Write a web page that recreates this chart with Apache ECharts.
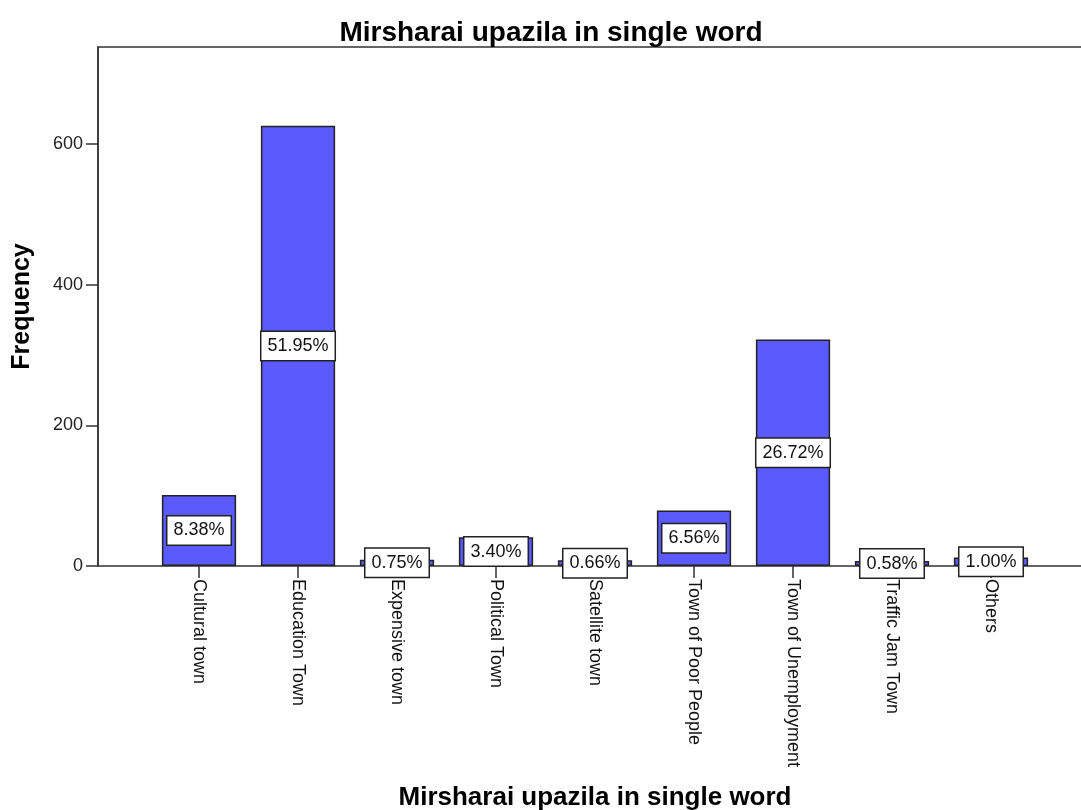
<!DOCTYPE html>
<html>
<head>
<meta charset="utf-8">
<script src="https://cdn.jsdelivr.net/npm/echarts@6/dist/echarts.min.js"></script>
<style>
html,body{margin:0;padding:0;background:#fff;}
#bar{width:1081px;height:810px;}
</style>
</head>
<body>
<div id="bar"></div>
<script>
// categories and values
var categories = ['Cultural town','Education Town','Expensive town','Political Town','Satellite town',
	'Town of Poor People','Town of Unemployment','Traffic Jam Town','Others'];
var frequency = [101, 626, 9, 41, 8, 79, 322, 7, 12];
var percentLabels = ['8.38%','51.95%','0.75%','3.40%','0.66%','6.56%','26.72%','0.58%','1.00%'];
var yTicks = [0, 200, 400, 600];

var font = '"Liberation Sans", Arial, sans-serif';

var myChart = echarts.init(document.getElementById('bar'));

myChart.setOption({
	animation: false,
	title: {
		text: 'Mirsharai upazila in single word',
		left: 546,
		textAlign: 'center',
		top: 14,
		textStyle: {fontFamily: font, fontSize: 28, fontWeight: 'bold', color: '#000'}
	},
	grid: [
		// bars
		{left: 149.5, right: 40.5, top: 47, bottom: 244, outerBoundsMode: 'none'},
		// outer frame (runs past the right edge like the original)
		{left: 98, right: -11, top: 47, bottom: 244, outerBoundsMode: 'none',
			show: true, borderColor: '#333', borderWidth: 1.5, backgroundColor: 'transparent'}
	],
	xAxis: [
		{
			type: 'category',
			gridIndex: 0,
			data: categories,
			axisLine: {show: false},
			axisTick: {show: true, alignWithLabel: true, length: 12, lineStyle: {color: '#333', width: 1.5}},
			axisLabel: {rotate: -90, margin: 13, interval: 0, fontFamily: font, fontSize: 18, color: '#111'},
			name: 'Mirsharai upazila in single word',
			nameLocation: 'middle',
			nameGap: 219,
			nameTextStyle: {fontFamily: font, fontSize: 26, fontWeight: 'bold', color: '#000'}
		},
		{type: 'value', gridIndex: 1, show: false}
	],
	yAxis: [
		{
			type: 'value',
			gridIndex: 0,
			min: 0,
			max: 738,
			offset: 51.5,
			axisLine: {show: true, lineStyle: {color: '#333', width: 1.5}},
			axisTick: {show: true, length: 12, customValues: yTicks, lineStyle: {color: '#333', width: 1.5}},
			axisLabel: {margin: 15, customValues: yTicks, fontFamily: font, fontSize: 18, color: '#222'},
			splitLine: {show: false},
			name: 'Frequency',
			nameLocation: 'middle',
			nameGap: 63,
			nameTextStyle: {fontFamily: font, fontSize: 25, fontWeight: 'bold', color: '#000'}
		},
		{type: 'value', gridIndex: 1, show: false}
	],
	series: [
		{
			type: 'bar',
			xAxisIndex: 0,
			yAxisIndex: 0,
			barWidth: '75%',
			data: frequency,
			itemStyle: {color: '#5a5aff', borderColor: '#222', borderWidth: 1.5},
			label: {
				show: true,
				position: 'inside',
				formatter: function (p) { return percentLabels[p.dataIndex]; },
				fontFamily: font,
				fontSize: 18,
				color: '#111',
				backgroundColor: '#fff',
				borderColor: '#222',
				borderWidth: 1.5,
				padding: [5, 6, 5, 6]
			}
		}
	]
});
</script>
</body>
</html>
